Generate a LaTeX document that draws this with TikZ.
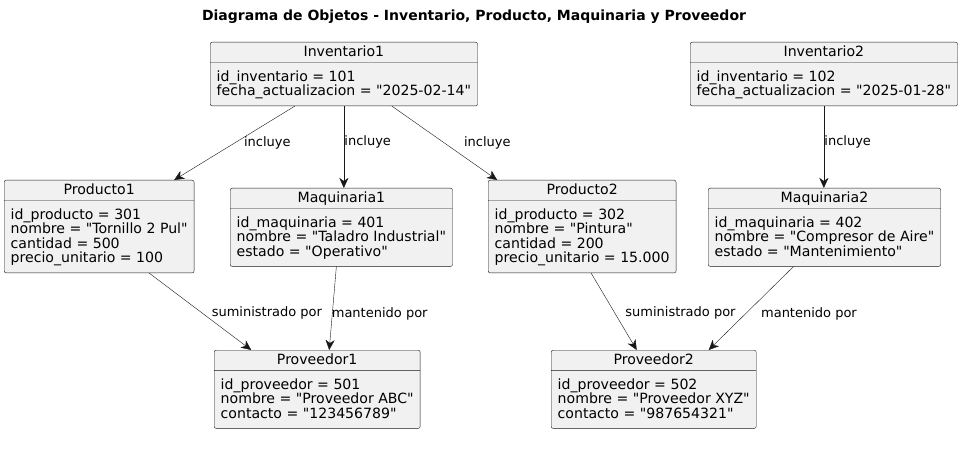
\documentclass[tikz,border=0pt]{standalone}
\usepackage{fontspec}
\setmainfont{DejaVu Sans}[Ligatures=TeXOff]
\usetikzlibrary{shapes.multipart,arrows.meta}
\definecolor{objfill}{HTML}{F1F1F1}
\definecolor{linec}{HTML}{181818}
\newcommand{\objhead}[1]{\rule[-3.7pt]{0pt}{15.7pt}#1}
\newcommand{\objtop}{\rule{0pt}{16.7pt}}
\newcommand{\objbot}{\rule[-8pt]{0pt}{8pt}}
\tikzset{
  obj/.style={rectangle split, rectangle split parts=2, draw=linec, fill=objfill,
    rounded corners=2pt, align=left, rectangle split part align={center,left},
    font=\fontsize{14.1}{14.5}\selectfont, inner xsep=6.5pt, inner ysep=2pt, anchor=north west},
  rel/.style={draw=linec, -{Stealth[length=10pt,width=9pt,inset=3pt]}},
  lbl/.style={font=\fontsize{13}{15}\selectfont, right}
}
\begin{document}
\begin{tikzpicture}[x=1pt,y=-1pt]
\useasboundingbox (0,0) rectangle (974,473);
\node[font=\fontsize{14}{16}\selectfont\bfseries] (title) at (474,17) {Diagrama de Objetos - Inventario, Producto, Maquinaria y Proveedor};
% objetos
\node[obj] (inv1) at (210,42) {\objhead{Inventario1}\nodepart{two}\objtop id\_inventario = 101\\fecha\_actualizacion = "2025-02-14"\objbot};
\node[obj] (inv2) at (690,42) {\objhead{Inventario2}\nodepart{two}\objtop id\_inventario = 102\\fecha\_actualizacion = "2025-01-28"\objbot};
\node[obj] (prod1) at (4,180) {\objhead{Producto1}\nodepart{two}\objtop id\_producto = 301\\nombre = "Tornillo 2 Pul"\\cantidad = 500\\precio\_unitario = 100\objbot};
\node[obj] (maq1) at (230,188) {\objhead{Maquinaria1}\nodepart{two}\objtop id\_maquinaria = 401\\nombre = "Taladro Industrial"\\estado = "Operativo"\objbot};
\node[obj] (prod2) at (488,180) {\objhead{Producto2}\nodepart{two}\objtop id\_producto = 302\\nombre = "Pintura"\\cantidad = 200\\precio\_unitario = 15.000\objbot};
\node[obj] (maq2) at (708,188) {\objhead{Maquinaria2}\nodepart{two}\objtop id\_maquinaria = 402\\nombre = "Compresor de Aire"\\estado = "Mantenimiento"\objbot};
\node[obj] (prov1) at (214,350) {\objhead{Proveedor1}\nodepart{two}\objtop id\_proveedor = 501\\nombre = "Proveedor ABC"\\contacto = "123456789"\objbot};
\node[obj] (prov2) at (551,350) {\objhead{Proveedor2}\nodepart{two}\objtop id\_proveedor = 502\\nombre = "Proveedor XYZ"\\contacto = "987654321"\objbot};
% relaciones
\draw[rel] ([xshift=-49pt]inv1.south) -- node[lbl, xshift=6pt] {incluye} ([xshift=75pt]prod1.north);
\draw[rel] (inv1.south) -- node[lbl, pos=0.44, xshift=-3pt] {incluye} (inv1.south |- maq1.north);
\draw[rel] ([xshift=48pt]inv1.south) -- node[lbl, xshift=16pt] {incluye} ([xshift=-85pt]prod2.north);
\draw[rel] (inv2.south) -- node[lbl, pos=0.44, xshift=-3pt] {incluye} (inv2.south |- maq2.north);
\draw[rel] ([xshift=50pt]prod1.south) -- node[lbl, pos=0.52, xshift=6pt] {suministrado por} ([xshift=-66pt]prov1.north);
\draw[rel] ([xshift=-5pt]maq1.south) -- node[lbl, pos=0.565, xshift=-4pt] {mantenido por} ([xshift=12pt]prov1.north);
\draw[rel] ([xshift=9pt]prod2.south) -- node[lbl, pos=0.52, xshift=7pt] {suministrado por} ([xshift=-17pt]prov2.north);
\draw[rel] ([xshift=-31pt]maq2.south) -- node[lbl, pos=0.565, xshift=12pt] {mantenido por} ([xshift=55pt]prov2.north);
\end{tikzpicture}
\end{document}
